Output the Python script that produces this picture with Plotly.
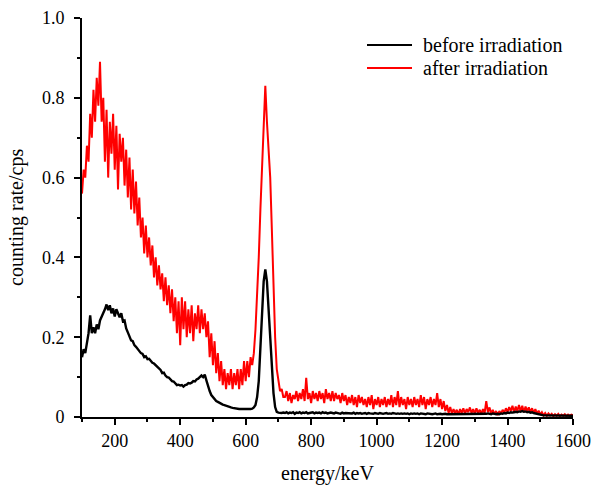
import plotly.graph_objects as go

# ---------------- data ----------------
# energy grid (keV), 5 keV channels from 100 to 1600
energy = list(range(100, 1601, 5))

# "before irradiation" counting rate (cps)
before_main = [
    # 100-195
    0.150, 0.170, 0.160, 0.190, 0.210, 0.255, 0.210, 0.225, 0.210, 0.232,
    0.220, 0.242, 0.250, 0.262, 0.270, 0.282, 0.268, 0.280, 0.260, 0.272,
    # 200-295
    0.252, 0.270, 0.258, 0.250, 0.260, 0.240, 0.242, 0.222, 0.212, 0.200,
    0.192, 0.190, 0.180, 0.176, 0.170, 0.166, 0.160, 0.158, 0.150, 0.152,
    # 300-395
    0.145, 0.146, 0.140, 0.136, 0.134, 0.130, 0.124, 0.120, 0.118, 0.110,
    0.111, 0.104, 0.100, 0.099, 0.094, 0.090, 0.089, 0.084, 0.080, 0.081,
    # 400-495
    0.079, 0.080, 0.076, 0.080, 0.081, 0.085, 0.084, 0.086, 0.090, 0.089,
    0.094, 0.096, 0.100, 0.104, 0.100, 0.106, 0.092, 0.076, 0.065, 0.055,
    # 500-595
    0.050, 0.045, 0.040, 0.038, 0.035, 0.033, 0.031, 0.030, 0.028, 0.026,
    0.025, 0.024, 0.023, 0.022, 0.022, 0.021, 0.020, 0.020, 0.020, 0.020,
    # 600-695
    0.019, 0.020, 0.019, 0.020, 0.021, 0.024, 0.030, 0.050, 0.090, 0.170,
    0.270, 0.340, 0.370, 0.340, 0.270, 0.190, 0.120, 0.060, 0.025, 0.013,
    # 700-715
    0.011, 0.010, 0.010, 0.011,
]
before_tail = [
    # 720-1600
    0.010, 0.012, 0.009, 0.011, 0.010, 0.012, 0.008, 0.011, 0.010, 0.012,
    0.009, 0.011, 0.010, 0.012, 0.009, 0.010, 0.011, 0.012, 0.009, 0.011,
    0.010, 0.011, 0.009, 0.012, 0.010, 0.011, 0.009, 0.010, 0.011, 0.010,
    0.009, 0.011, 0.010, 0.010, 0.008, 0.011, 0.009, 0.010, 0.010, 0.009,
    0.010, 0.009, 0.011, 0.008, 0.010, 0.009, 0.010, 0.008, 0.009, 0.010,
    0.008, 0.010, 0.009, 0.009, 0.008, 0.010, 0.009, 0.008, 0.010, 0.009,
    0.008, 0.009, 0.010, 0.008, 0.009, 0.008, 0.010, 0.009, 0.008, 0.009,
    0.008, 0.009, 0.008, 0.009, 0.008, 0.009, 0.007, 0.009, 0.008, 0.009,
    0.008, 0.009, 0.007, 0.009, 0.008, 0.008, 0.007, 0.009, 0.008, 0.008,
    0.007, 0.008, 0.009, 0.007, 0.008, 0.008, 0.007, 0.008, 0.008, 0.007,
    0.007, 0.008, 0.007, 0.008, 0.007, 0.008, 0.007, 0.008, 0.007, 0.008,
    0.007, 0.008, 0.007, 0.007, 0.008, 0.007, 0.008, 0.007, 0.008, 0.007,
    0.007, 0.008, 0.007, 0.008, 0.009, 0.008, 0.007, 0.009, 0.008, 0.007,
    0.008, 0.007, 0.009, 0.008, 0.010, 0.009, 0.011, 0.010, 0.012, 0.011,
    0.012, 0.013, 0.012, 0.014, 0.013, 0.015, 0.013, 0.014, 0.012, 0.013,
    0.011, 0.012, 0.010, 0.009, 0.007, 0.006, 0.005, 0.005, 0.004, 0.004,
    0.004, 0.003, 0.004, 0.003, 0.004, 0.003, 0.003, 0.004, 0.003, 0.003,
    0.003, 0.004, 0.003, 0.003, 0.003, 0.003, 0.003,
]
before = before_main + before_tail

# "after irradiation" counting rate (cps)
after_main = [
    # 100-195
    0.560, 0.620, 0.600, 0.680, 0.640, 0.760, 0.700, 0.820, 0.740, 0.850,
    0.780, 0.890, 0.740, 0.800, 0.640, 0.770, 0.600, 0.740, 0.660, 0.760,
    # 200-295
    0.620, 0.730, 0.570, 0.710, 0.640, 0.700, 0.580, 0.670, 0.550, 0.650,
    0.520, 0.620, 0.510, 0.590, 0.480, 0.550, 0.450, 0.500, 0.410, 0.480,
    # 300-395
    0.400, 0.450, 0.380, 0.430, 0.350, 0.400, 0.330, 0.380, 0.320, 0.360,
    0.290, 0.350, 0.280, 0.330, 0.260, 0.320, 0.240, 0.300, 0.210, 0.290,
    # 400-495
    0.180, 0.300, 0.220, 0.290, 0.200, 0.270, 0.210, 0.280, 0.190, 0.260,
    0.220, 0.280, 0.210, 0.270, 0.220, 0.260, 0.200, 0.240, 0.150, 0.210,
    # 500-595
    0.130, 0.190, 0.110, 0.160, 0.090, 0.140, 0.080, 0.120, 0.070, 0.110,
    0.080, 0.120, 0.070, 0.110, 0.080, 0.120, 0.070, 0.120, 0.080, 0.140,
    # 600-695
    0.090, 0.140, 0.100, 0.150, 0.130, 0.160, 0.220, 0.300, 0.400, 0.520,
    0.620, 0.700, 0.830, 0.740, 0.680, 0.600, 0.470, 0.330, 0.200, 0.120,
    # 700-715
    0.085, 0.065, 0.070, 0.050,
]
after_tail = [
    # 720-1600
    0.050, 0.065, 0.040, 0.060, 0.035, 0.055, 0.045, 0.065, 0.040, 0.060,
    0.045, 0.070, 0.040, 0.098, 0.045, 0.060, 0.035, 0.065, 0.045, 0.060,
    0.040, 0.065, 0.045, 0.060, 0.035, 0.070, 0.045, 0.060, 0.040, 0.065,
    0.040, 0.060, 0.045, 0.055, 0.035, 0.060, 0.040, 0.055, 0.030, 0.050,
    0.035, 0.055, 0.030, 0.050, 0.025, 0.055, 0.035, 0.050, 0.030, 0.045,
    0.025, 0.050, 0.030, 0.055, 0.020, 0.045, 0.030, 0.050, 0.025, 0.045,
    0.030, 0.050, 0.025, 0.045, 0.030, 0.055, 0.025, 0.050, 0.030, 0.065,
    0.025, 0.050, 0.030, 0.045, 0.020, 0.050, 0.030, 0.045, 0.025, 0.050,
    0.030, 0.045, 0.025, 0.055, 0.030, 0.050, 0.020, 0.045, 0.030, 0.050,
    0.025, 0.045, 0.030, 0.060, 0.025, 0.045, 0.020, 0.040, 0.015, 0.030,
    0.010, 0.025, 0.008, 0.020, 0.010, 0.018, 0.006, 0.020, 0.010, 0.022,
    0.008, 0.020, 0.012, 0.024, 0.010, 0.020, 0.008, 0.022, 0.010, 0.018,
    0.008, 0.020, 0.010, 0.040, 0.012, 0.024, 0.008, 0.018, 0.006, 0.015,
    0.005, 0.015, 0.008, 0.018, 0.010, 0.022, 0.012, 0.025, 0.015, 0.028,
    0.012, 0.026, 0.015, 0.030, 0.014, 0.028, 0.012, 0.026, 0.015, 0.024,
    0.012, 0.022, 0.010, 0.020, 0.008, 0.016, 0.006, 0.012, 0.004, 0.010,
    0.003, 0.009, 0.004, 0.008, 0.002, 0.007, 0.003, 0.008, 0.002, 0.006,
    0.003, 0.007, 0.002, 0.006, 0.003, 0.006, 0.004,
]
after = after_main + after_tail

x_ticks = [200, 400, 600, 800, 1000, 1200, 1400, 1600]
y_ticks = [0, 0.2, 0.4, 0.6, 0.8, 1.0]
y_tick_labels = ["0", "0.2", "0.4", "0.6", "0.8", "1.0"]
series_names = ["before irradiation", "after irradiation"]
series_colors = ["#000000", "#ff0000"]

FONT = "Liberation Serif, Times New Roman, serif"

# plot-area geometry in pixels
W, H = 597, 485
L, R, T, B = 82, 24, 18, 68
PW, PH = W - L - R, H - T - B

def px_x(p):
    return (p - L) / PW

def px_y(p):
    return (H - B - p) / PH

fig = go.Figure()
fig.add_trace(go.Scatter(x=energy, y=after, mode="lines", name=series_names[1],
                         line=dict(color=series_colors[1], width=2.0), showlegend=False))
fig.add_trace(go.Scatter(x=energy, y=before, mode="lines", name=series_names[0],
                         line=dict(color=series_colors[0], width=2.4), showlegend=False))

# legend drawn as paper-referenced line samples + text
legend_rows_px = [45, 68]
for name, color, ypx in zip(series_names, series_colors, legend_rows_px):
    fig.add_shape(type="line", xref="paper", yref="paper",
                  x0=px_x(367), x1=px_x(412), y0=px_y(ypx), y1=px_y(ypx),
                  line=dict(color=color, width=2))
    fig.add_annotation(xref="paper", yref="paper", x=px_x(421), y=px_y(ypx),
                       xanchor="left", yanchor="middle", showarrow=False,
                       text=name, font=dict(family=FONT, size=20, color="black"))

# axis titles
fig.add_annotation(xref="paper", yref="paper", x=0.5, y=px_y(473),
                   xanchor="center", yanchor="middle", showarrow=False,
                   text="energy/keV", font=dict(family=FONT, size=20, color="black"))
fig.add_annotation(xref="paper", yref="paper", x=px_x(16), y=px_y(218),
                   xanchor="center", yanchor="middle", showarrow=False, textangle=-90,
                   text="counting rate/cps", font=dict(family=FONT, size=20, color="black"))

fig.update_layout(
    width=W, height=H,
    margin=dict(l=L, r=R, t=T, b=B, autoexpand=False),
    paper_bgcolor="white", plot_bgcolor="white",
    font=dict(family=FONT, size=18, color="black"),
    showlegend=False,
)
fig.update_xaxes(
    range=[100, 1600], tickvals=x_ticks, showgrid=False, zeroline=False, automargin=False,
    showline=True, linecolor="black", linewidth=2,
    ticks="outside", ticklen=6, tickwidth=1.5, tickcolor="black",
    minor=dict(dtick=100, tick0=0, ticks="outside", ticklen=3, tickwidth=1.5, tickcolor="black"),
)
fig.update_yaxes(
    range=[0, 1.0], tickvals=y_ticks, ticktext=y_tick_labels, showgrid=False, zeroline=False,
    automargin=False, showline=True, linecolor="black", linewidth=2,
    ticks="outside", ticklen=6, tickwidth=1.5, tickcolor="black", ticklabelstandoff=6,
    minor=dict(dtick=0.1, tick0=0, ticks="outside", ticklen=3, tickwidth=1.5, tickcolor="black"),
)

fig.write_html(
    "out.html",
    config={"displayModeBar": False},
    post_script="document.body.style.margin='0';document.body.style.overflow='hidden';",
)
